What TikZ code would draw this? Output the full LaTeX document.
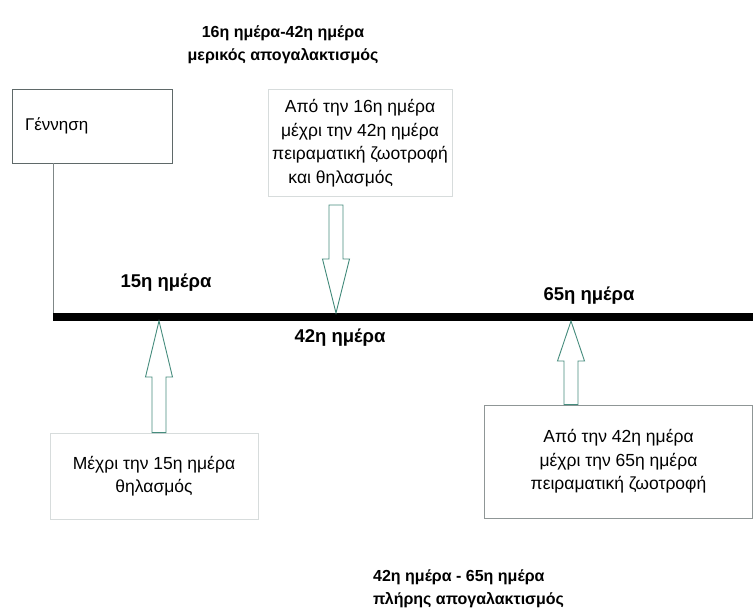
\documentclass[tikz,border=0pt]{standalone}
\usepackage{fontspec}
\setmainfont{Liberation Sans}
\usetikzlibrary{calc, positioning}

\definecolor{arrowteal}{RGB}{70,140,125}
\definecolor{boxdark}{RGB}{95,105,105}
\definecolor{boxlight}{RGB}{215,220,220}

\tikzset{
    title/.style={font=\bfseries\fontsize{16}{23}\selectfont, align=center, inner sep=0pt},
    daylabel/.style={font=\bfseries\fontsize{18.5}{20}\selectfont, inner sep=0pt},
    infobox/.style={draw=boxlight, line width=0.8pt, align=center,
        font=\fontsize{17.5}{23.5}\selectfont},
    hollow/.style={draw=arrowteal, line width=0.9pt, fill=white},
    timeline/.style={line width=8pt, black},
}

% hollow block arrow: start, tip, head length
\newcommand{\blockarrow}[3]{
    \draw[hollow] let \p1=(#1), \p2=(#2), \p3=($(#2)!#3pt!(#1)$) in
        (\x1-7pt,\y1) -- (\x1-7pt,\y3) -- (\x1-13.5pt,\y3) -- (\x2,\y2)
        -- (\x1+13.5pt,\y3) -- (\x1+7pt,\y3) -- (\x1+7pt,\y1) -- cycle;
}

\begin{document}
\begin{tikzpicture}[x=1pt, y=-1pt]
    \useasboundingbox (0,0) rectangle (753,610);

    % titles
    \node[title] (partial) at (283,45) {16η ημέρα-42η ημέρα\\μερικός απογαλακτισμός};
    \node[title, align=left, anchor=west] (full) at (373,589) {42η ημέρα - 65η ημέρα\\πλήρης απογαλακτισμός};

    % boxes
    \node[draw=boxdark, line width=0.9pt, minimum width=160pt, minimum height=74pt,
        text width=134pt, align=left, font=\fontsize{17}{19}\selectfont] (birth) at (92,126) {Γέννηση};
    \node[infobox, minimum width=184pt, minimum height=107pt] (trial16) at (360,143)
        {Από την 16η ημέρα\\μέχρι την 42η ημέρα\\πειραματική ζωοτροφή\\\hspace*{-2.2em}και θηλασμός};
    \node[infobox, minimum width=208pt, minimum height=86pt] (nursing) at (154,476)
        {Μέχρι την 15η ημέρα\\θηλασμός};
    \node[infobox, draw=boxdark!70, minimum width=268pt, minimum height=113pt] (trial42) at (618.5,461.5)
        {Από την 42η ημέρα\\μέχρι την 65η ημέρα\\πειραματική ζωοτροφή};

    % time line
    \coordinate (start) at (53,317);
    \coordinate (end) at (753,317);
    \coordinate (d15) at (159,321);
    \coordinate (d42) at (336,313);
    \coordinate (d65) at (571,321);
    \draw[boxdark!80, line width=0.9pt] (birth.south -| start) -- (start);
    \draw[timeline] (start) -- (end);

    \node[daylabel] (l15) at (166,283) {15η ημέρα};
    \node[daylabel] (l42) at (340,338) {42η ημέρα};
    \node[daylabel] (l65) at (589,296) {65η ημέρα};

    % arrows
    \blockarrow{336,205}{d42}{54}
    \blockarrow{nursing.north -| d15}{d15}{56}
    \blockarrow{trial42.north -| d65}{d65}{40}
\end{tikzpicture}
\end{document}
